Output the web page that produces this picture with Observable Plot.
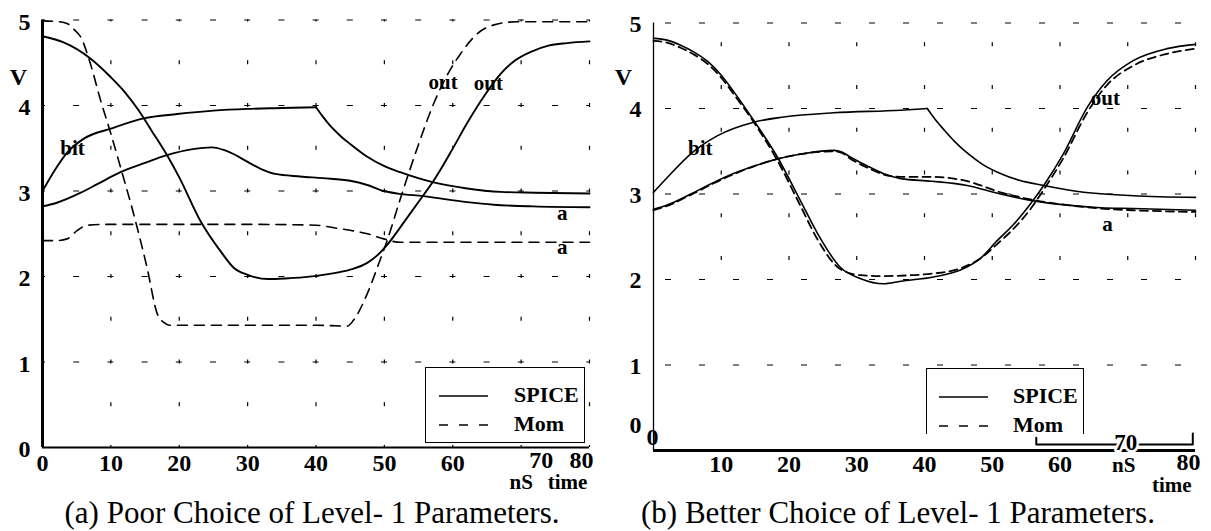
<!DOCTYPE html>
<html><head><meta charset="utf-8">
<script src="https://cdn.jsdelivr.net/npm/d3@7"></script>
<script src="https://cdn.jsdelivr.net/npm/@observablehq/plot@0.6"></script>
<style>
body{margin:0;background:#fff;}
#wrap{position:relative;width:1211px;height:531px;overflow:hidden;font-family:"Liberation Serif","Times New Roman",serif;color:#000;}
.panel{position:absolute;top:0;}
.cap{position:absolute;top:497px;width:600px;font-size:31px;line-height:1;text-align:center;white-space:nowrap;}
.leg{position:absolute;background:#fff;box-sizing:border-box;}
.leg .t{position:absolute;font-weight:bold;font-size:22px;line-height:1;white-space:nowrap;}
.leg svg{position:absolute;left:0;top:0;overflow:visible;}
</style></head><body><div id="wrap"></div>
<script>
// ---------- axis / grid values ----------
const xTicks = [0, 10, 20, 30, 40, 50, 60, 70, 80];
const xTicksB = [10, 20, 30, 40, 50, 60];
const yTicks = [0, 1, 2, 3, 4, 5];
const xGrid = [10, 20, 30, 40, 50, 60, 70, 80];
const yGrid = [1, 2, 3, 4, 5];

// ---------- (a) Poor choice: [time nS, volts] ----------
const aOutSpice = [[0,4.81],[3,4.74],[7,4.55],[10,4.33],[12,4.16],[14,3.95],[16,3.7],[18.2,3.42],[20,3.16],[23.1,2.65],[26,2.3],[28,2.1],[30,2.02],[33,1.97],[36,1.98],[38,1.99],[42,2.03],[45,2.08],[47.5,2.16],[49,2.25],[50.4,2.37],[53,2.65],[55.7,2.95],[57.2,3.12],[60.1,3.51],[62,3.78],[64.5,4.1],[67,4.37],[69,4.52],[71.8,4.64],[74,4.7],[76.7,4.73],[80,4.75]];
const aBitSpice = [[0,3.0],[2,3.27],[3.6,3.45],[6,3.61],[10,3.73],[14.8,3.85],[19.7,3.9],[25,3.94],[30,3.96],[35,3.97],[40,3.98],[41,3.87],[42,3.77],[43.5,3.65],[45,3.55],[47.5,3.4],[50,3.29],[52.3,3.22],[57.2,3.1],[62.1,3.03],[67,2.99],[72,2.98],[80,2.97]];
const aASpice = [[0,2.82],[2,2.86],[5.6,2.98],[8,3.08],[11.4,3.22],[15,3.33],[18.2,3.42],[22,3.49],[24.8,3.51],[26.5,3.48],[28,3.43],[30,3.34],[31.9,3.26],[34,3.2],[37.7,3.17],[41,3.15],[45,3.12],[47.5,3.07],[49.9,3.0],[52,2.97],[55.7,2.94],[62.1,2.87],[66,2.84],[71.8,2.82],[80,2.81]];
const aOutMom = [[0,4.99],[2.5,4.98],[3.6,4.96],[4.6,4.89],[5.6,4.8],[7,4.49],[8.5,4.06],[10,3.67],[11.4,3.28],[13.3,2.74],[15.3,2.1],[16.8,1.56],[17.8,1.46],[18.5,1.43],[20,1.43],[30,1.43],[40,1.43],[44.6,1.42],[45.5,1.49],[47.5,1.8],[49.4,2.2],[50.4,2.42],[52.3,2.9],[54.8,3.5],[57.2,4.02],[59.5,4.4],[61.1,4.6],[63.6,4.84],[65.9,4.94],[69.4,4.98],[80,4.98]];
const aAMom = [[0,2.42],[2,2.42],[3.6,2.44],[5.1,2.54],[6.6,2.6],[10,2.61],[20,2.61],[30,2.61],[40,2.6],[42.6,2.57],[45,2.54],[47.5,2.5],[49.9,2.44],[52.3,2.4],[60,2.4],[80,2.4]];

// ---------- (b) Better choice ----------
const bOutSpice = [[0,4.82],[2,4.8],[4,4.74],[6,4.66],[8,4.55],[10,4.39],[12,4.18],[14.8,3.86],[18.3,3.43],[21.7,2.92],[24.2,2.54],[27.6,2.14],[30.6,2.01],[33.9,1.95],[36.5,1.98],[41.3,2.03],[45.3,2.11],[48.3,2.25],[50.8,2.46],[53.1,2.64],[55.6,2.88],[57.6,3.1],[60.5,3.47],[64,4.01],[67,4.33],[70.8,4.56],[75.8,4.7],[80,4.75]];
const bOutMom = [[0,4.79],[2,4.77],[4,4.71],[6,4.63],[8,4.52],[10,4.36],[12,4.15],[14.8,3.84],[18.3,3.39],[21.7,2.86],[24.2,2.47],[27.6,2.12],[30.6,2.05],[34,2.04],[38,2.05],[41.3,2.07],[45.3,2.13],[48.3,2.25],[50.8,2.42],[53.1,2.59],[55.6,2.82],[57.6,3.05],[60.5,3.42],[64,3.95],[67,4.28],[70.8,4.5],[75.8,4.64],[80,4.7]];
const bBitSpice = [[0,3.02],[2,3.19],[5.5,3.47],[9.4,3.68],[14.8,3.84],[19.2,3.9],[26.6,3.95],[36.5,3.98],[40.4,4.0],[41.5,3.88],[43,3.74],[44.5,3.61],[46.3,3.48],[48.5,3.35],[51.2,3.24],[54,3.16],[57.6,3.1],[63.5,3.02],[70.8,2.98],[80,2.96]];
const bASpice = [[0,2.82],[2,2.87],[5.5,3.0],[8.5,3.12],[11.8,3.24],[15,3.33],[18.3,3.41],[22,3.47],[26.6,3.51],[27.8,3.49],[29.1,3.43],[31.5,3.33],[33.9,3.24],[36.5,3.18],[41,3.15],[46.3,3.1],[51.2,3.0],[56.1,2.92],[61.1,2.87],[66,2.84],[70.8,2.83],[80,2.81]];
const bAMom = [[0,2.81],[2,2.86],[5.5,2.99],[8.5,3.11],[11.8,3.23],[15,3.33],[18.3,3.41],[22,3.47],[26.6,3.5],[27.8,3.48],[29.1,3.41],[31.5,3.31],[33.9,3.23],[36.5,3.2],[41,3.2],[46.3,3.15],[51.2,3.02],[56.1,2.93],[61.1,2.87],[66,2.83],[70.8,2.81],[80,2.79]];
const bBracket = [[56.5,0.15],[56.5,0.07],[79.6,0.07],[79.6,0.2]];

// ---------- curve labels ----------
const aLabels = [{t:4.4, v:3.5, s:"bit"},{t:58.6, v:4.27, s:"out"},{t:65.2, v:4.26, s:"out"},{t:76, v:2.74, s:"a"},{t:76, v:2.34, s:"a"}];
const bLabels = [{t:6.9, v:3.53, s:"bit"},{t:66.7, v:4.12, s:"out"},{t:67, v:2.65, s:"a"}];

const F = '"Liberation Serif","Times New Roman",serif';
const pts = arr => arr.map(([t, v]) => ({t, v}));
const K = "#000";

function solid(arr, sw) {
  return Plot.line(pts(arr), {x:"t", y:"v", curve:"monotone-x", stroke:K, strokeWidth:sw});
}
function dashed(arr, sw, da) {
  return Plot.line(pts(arr), {x:"t", y:"v", curve:"monotone-x", stroke:K, strokeWidth:sw, strokeDasharray:da});
}
function bit(arr, corner, sw) {
  const p = pts(arr);
  return [
    Plot.line(p.filter(d => d.t <= corner), {x:"t", y:"v", curve:"monotone-x", stroke:K, strokeWidth:sw}),
    Plot.line(p.filter(d => d.t >= corner), {x:"t", y:"v", curve:"monotone-x", stroke:K, strokeWidth:sw})
  ];
}
const tick = {fontFamily:F, fontWeight:"bold", fontSize:24, fill:K};
const lab = {fontFamily:F, fontWeight:"bold", fontSize:21, fill:K};

const plotA = Plot.plot({
  width: 605, height: 490,
  marginLeft: 42, marginRight: 16, marginTop: 19.5, marginBottom: 43,
  x: {domain:[0, 80], axis:null},
  y: {domain:[0, 5], axis:null},
  style: {background:"transparent", overflow:"visible"},
  marks: [
    Plot.ruleY(yGrid, {x1:0, x2:80, stroke:K, strokeWidth:1.2, strokeDasharray:"6 28.2", strokeDashoffset:3}),
    Plot.ruleX(xGrid, {y1:0, y2:5, stroke:K, strokeWidth:1.2, strokeDasharray:"4 38.75", strokeDashoffset:2}),
    Plot.ruleX([0], {y1:0, y2:5, stroke:K, strokeWidth:3}),
    Plot.ruleY([0], {x1:0, x2:80, stroke:K, strokeWidth:2}),
    solid(aOutSpice, 1.9),
    ...bit(aBitSpice, 40, 1.9),
    solid(aASpice, 1.9),
    dashed(aOutMom, 1.6, "10 7"),
    dashed(aAMom, 1.6, "10 7"),
    Plot.text(aLabels, {x:"t", y:"v", text:"s", ...lab}),
    Plot.text(yTicks, {x:0, y:d => d, dx:-18, dy:2, text:d => `${d}`, ...tick}),
    Plot.text(["V"], {x:0, y:4.33, dx:-24, text:d => d, ...tick}),
    Plot.text(xTicks.filter(d => d < 70), {x:d => d, y:0, dy:16, text:d => `${d}`, ...tick}),
    Plot.text([70], {x:d => d, y:0, dy:13, dx:20, text:d => `${d}`, ...tick}),
    Plot.text([80], {x:d => d, y:0, dy:13, dx:-8, text:d => `${d}`, ...tick}),
    Plot.text(["nS"], {x:70, y:0, dy:35, text:d => d, ...tick, fontSize:21}),
    Plot.text(["time"], {x:76.8, y:0, dy:35, text:d => d, ...tick, fontSize:21})
  ]
});

const plotB = Plot.plot({
  width: 606, height: 490,
  marginLeft: 48, marginRight: 16, marginTop: 22.5, marginBottom: 40,
  x: {domain:[0, 80], axis:null},
  y: {domain:[0, 5], axis:null},
  style: {background:"transparent", overflow:"visible"},
  marks: [
    Plot.ruleY(yGrid, {x1:0, x2:80, stroke:K, strokeWidth:1.2, strokeDasharray:"6 28", strokeDashoffset:-12}),
    Plot.ruleX(xGrid, {y1:2, y2:5, stroke:K, strokeWidth:1.2, strokeDasharray:"4 38.75", strokeDashoffset:-19}),
    Plot.ruleX([0], {y1:0, y2:5, stroke:K, strokeWidth:1.3}),
    Plot.ruleY([0], {x1:0, x2:80, stroke:K, strokeWidth:3}),
    Plot.line(pts(bBracket), {x:"t", y:"v", stroke:K, strokeWidth:2}),
    dashed(bOutMom, 1.8, "8 5"),
    dashed(bAMom, 1.8, "8 5"),
    solid(bOutSpice, 1.6),
    ...bit(bBitSpice, 40.4, 1.6),
    solid(bASpice, 1.6),
    Plot.text(bLabels, {x:"t", y:"v", text:"s", ...lab}),
    Plot.text(yTicks.filter(d => d > 0), {x:0, y:d => d, dx:-18, dy:1, text:d => `${d}`, ...tick}),
    Plot.text([0], {x:0, y:d => d, dx:-18, dy:-25, text:d => `${d}`, ...tick}),
    Plot.text([0], {x:d => d, y:0, dx:-1, dy:-13, text:d => `${d}`, ...tick}),
    Plot.text(["V"], {x:0, y:4.36, dx:-30, text:d => d, ...tick}),
    Plot.text(xTicksB, {x:d => d, y:0, dy:14, text:d => `${d}`, ...tick}),
    Plot.text([70], {x:d => d, y:0, dx:-2, dy:-8, text:d => `${d}`, ...tick, fontSize:23, stroke:"#fff", strokeWidth:5, paintOrder:"stroke"}),
    Plot.text(["nS"], {x:69.4, y:0, dy:15, text:d => d, ...tick, fontSize:21}),
    Plot.text([80], {x:d => d, y:0, dx:-7, dy:12, text:d => `${d}`, ...tick}),
    Plot.text(["time"], {x:76.5, y:0, dy:35, text:d => d, ...tick, fontSize:21})
  ]
});

const wrap = document.getElementById("wrap");
function place(el, left) {
  const d = document.createElement("div");
  d.className = "panel";
  d.style.left = left + "px";
  d.appendChild(el);
  wrap.appendChild(d);
}
place(plotA, 0);
place(plotB, 605);

// legends
const legendItems = ["SPICE", "Mom"];
const legendDash = [null, "9 11"];
function legend(cfg) {
  const d = document.createElement("div");
  d.className = "leg";
  Object.assign(d.style, {left:cfg.left+"px", top:cfg.top+"px", width:cfg.w+"px", height:cfg.h+"px"}, cfg.border);
  const ns = "http://www.w3.org/2000/svg";
  const svg = document.createElementNS(ns, "svg");
  svg.setAttribute("width", cfg.w); svg.setAttribute("height", cfg.h);
  legendItems.forEach((name, i) => {
    const y = cfg.rows[i] - cfg.top;
    const ln = document.createElementNS(ns, "line");
    ln.setAttribute("x1", cfg.sx0 - cfg.left); ln.setAttribute("x2", cfg.sx1 - cfg.left);
    ln.setAttribute("y1", y); ln.setAttribute("y2", y);
    ln.setAttribute("stroke", "#000"); ln.setAttribute("stroke-width", 1.4);
    if (legendDash[i]) ln.setAttribute("stroke-dasharray", legendDash[i]);
    svg.appendChild(ln);
    const t = document.createElement("div");
    t.className = "t"; t.textContent = name;
    t.style.left = (cfg.tx - cfg.left) + "px";
    t.style.top = (y - 12) + "px";
    d.appendChild(t);
  });
  d.appendChild(svg);
  wrap.appendChild(d);
}
legend({left:425, top:367, w:160, h:76, border:{border:"1.5px solid #000"}, rows:[395, 424], sx0:438, sx1:487, tx:513});
legend({left:926, top:368, w:158, h:66, border:{borderTop:"1.3px solid #000", borderLeft:"1.3px solid #000", borderRight:"1.3px solid #000"}, rows:[396, 425], sx0:938, sx1:987, tx:1012});

// captions
const captions = ["(a) Poor Choice of Level- 1 Parameters.", "(b) Better Choice of Level- 1 Parameters."];
const captionCenters = [312, 898];
captions.forEach((c, i) => {
  const d = document.createElement("div");
  d.className = "cap";
  d.style.left = (captionCenters[i] - 300) + "px";
  d.textContent = c;
  wrap.appendChild(d);
});
</script></body></html>
